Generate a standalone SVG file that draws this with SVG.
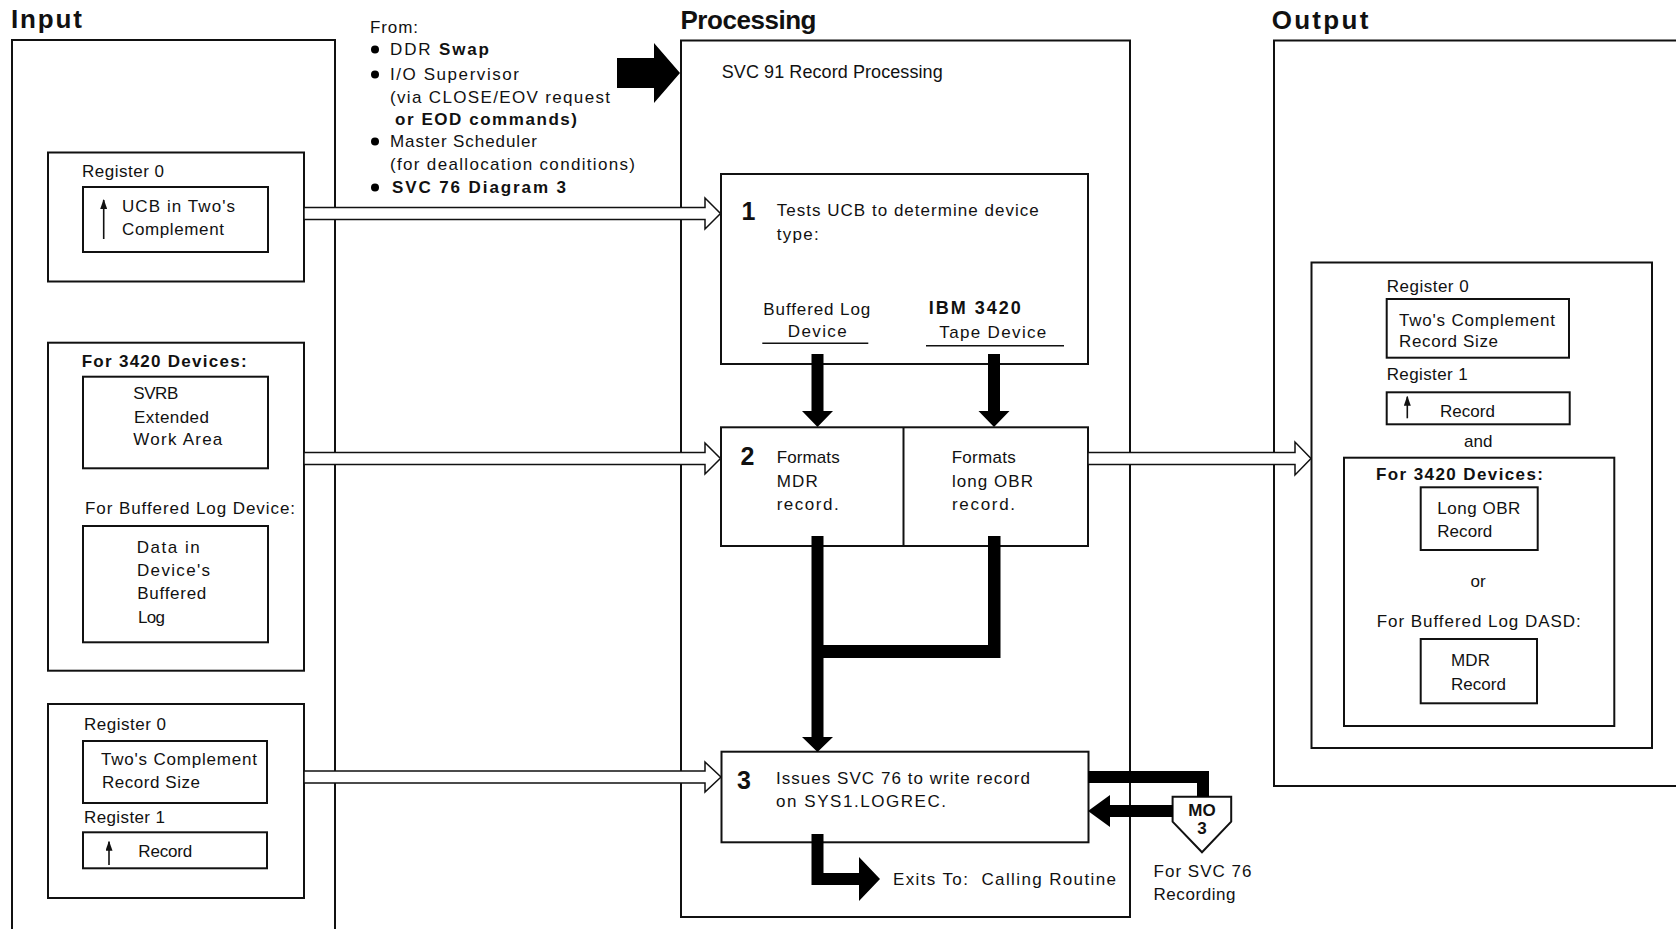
<svg xmlns="http://www.w3.org/2000/svg" width="1676" height="929" viewBox="0 0 1676 929">
  <style>
    .col{fill:none;stroke:#111;stroke-width:2}
    .box{fill:#fff;stroke:#111;stroke-width:2}
    .t{font-family:"Liberation Sans",Arial,sans-serif;font-size:17px;fill:#111}
    .b{font-weight:bold}
    .title{font-size:26px;font-weight:bold}
    .num{font-size:25px;font-weight:bold}
    .mid{text-anchor:middle}
    .hollow{fill:#fff;stroke:#111;stroke-width:1.5;stroke-linejoin:miter}
    .thick{fill:#000;stroke:none}
    .ul{stroke:#111;stroke-width:1.5}
    .ptr{stroke:#111;stroke-width:1.6;marker-end:url(#ptrHead)}
  </style>
  <defs>
    <marker id="ptrHead" viewBox="0 0 10 7" refX="9" refY="3.5" markerUnits="userSpaceOnUse" markerWidth="10" markerHeight="7" orient="auto">
      <path d="M0,0 L10,3.5 L0,7 z" fill="#111"/>
    </marker>
  </defs>
  <rect width="1676" height="929" fill="#fff"/>

  <!-- Input column -->
  <g id="input-column">
    <text class="t title" x="11" y="28" textLength="71">Input</text>
    <rect class="col" x="12" y="40" width="323" height="960"/>
  </g>

  <g id="in-register0-ucb">
    <rect class="box" x="48" y="152.5" width="256" height="129"/>
    <text class="t" x="82" y="176.7" textLength="82">Register 0</text>
    <rect class="box" x="83" y="187" width="185" height="65"/>
    <line class="ptr" x1="103.7" y1="239" x2="103.7" y2="200"/>
    <text class="t" x="122" y="211.7" textLength="113">UCB in Two's</text>
    <text class="t" x="122" y="235" textLength="102">Complement</text>
  </g>

  <g id="in-device-data">
    <rect class="box" x="48" y="342.7" width="256" height="328"/>
    <text class="t b" x="81.7" y="366.7" textLength="165">For 3420 Devices:</text>
    <rect class="box" x="83" y="376.7" width="185" height="91.6"/>
    <text class="t" x="133.3" y="399.3" textLength="45">SVRB</text>
    <text class="t" x="134" y="422.7" textLength="75">Extended</text>
    <text class="t" x="133.3" y="445" textLength="89">Work Area</text>
    <text class="t" x="85" y="514" textLength="210">For Buffered Log Device:</text>
    <rect class="box" x="83" y="526" width="185" height="116.3"/>
    <text class="t" x="136.7" y="552.7" textLength="63">Data in</text>
    <text class="t" x="137" y="576" textLength="73">Device's</text>
    <text class="t" x="137.3" y="599.3" textLength="69">Buffered</text>
    <text class="t" x="138" y="622.7" textLength="27">Log</text>
  </g>

  <g id="in-register-record">
    <rect class="box" x="48" y="704" width="256" height="194"/>
    <text class="t" x="84" y="730" textLength="82">Register 0</text>
    <rect class="box" x="83" y="741" width="184" height="62"/>
    <text class="t" x="101" y="765" textLength="156">Two's Complement</text>
    <text class="t" x="102" y="788.3" textLength="98">Record Size</text>
    <text class="t" x="84" y="823.3" textLength="81">Register 1</text>
    <rect class="box" x="83" y="832.3" width="184" height="36"/>
    <line class="ptr" x1="109" y1="865" x2="109" y2="841.7"/>
    <text class="t" x="138.3" y="856.7" textLength="54">Record</text>
  </g>

  <!-- Callers -->
  <g id="from-list">
    <text class="t" x="370" y="33" textLength="48">From:</text>
    <circle cx="375" cy="49.5" r="4"/>
    <text class="t" x="390" y="55" textLength="99">DDR <tspan class="b">Swap</tspan></text>
    <circle cx="375" cy="74.5" r="4"/>
    <text class="t" x="390" y="80" textLength="129">I/O Supervisor</text>
    <text class="t" x="390" y="103" textLength="220">(via CLOSE/EOV request</text>
    <text class="t b" x="395" y="125" textLength="182">or EOD commands)</text>
    <circle cx="375" cy="141.5" r="4"/>
    <text class="t" x="390" y="147" textLength="147">Master Scheduler</text>
    <text class="t" x="390" y="170" textLength="245">(for deallocation conditions)</text>
    <circle cx="375" cy="187.5" r="4"/>
    <text class="t b" x="392" y="193" textLength="174">SVC 76 Diagram 3</text>
  </g>

  <!-- Processing column -->
  <g id="processing-column">
    <text class="t title" x="680.5" y="29" textLength="136">Processing</text>
    <rect class="col" x="681" y="40.5" width="449" height="876.5"/>
    <text class="t" x="721.7" y="78.3" style="font-size:18px" textLength="221">SVC 91 Record Processing</text>
  </g>

  <g id="step1">
    <rect class="box" x="721" y="174" width="367" height="190"/>
    <text class="t num" x="741.5" y="220">1</text>
    <text class="t" x="776.7" y="216" textLength="262">Tests UCB to determine device</text>
    <text class="t" x="776.7" y="240" textLength="42">type:</text>
    <text class="t" x="763.3" y="315" textLength="107">Buffered Log</text>
    <text class="t" x="787.7" y="337.3" textLength="59">Device</text>
    <line class="ul" x1="762.3" y1="343.3" x2="868.3" y2="343.3"/>
    <text class="t b" x="928.7" y="314" style="font-size:18px" textLength="92">IBM 3420</text>
    <text class="t" x="939.3" y="338.3" textLength="107">Tape Device</text>
    <line class="ul" x1="926" y1="345.7" x2="1064" y2="345.7"/>
  </g>

  <g id="step2">
    <rect class="box" x="721" y="427.3" width="367" height="118.7"/>
    <line class="col" x1="903.5" y1="427.3" x2="903.5" y2="546"/>
    <text class="t num" x="740.5" y="465">2</text>
    <text class="t" x="776.7" y="463.3" textLength="63">Formats</text>
    <text class="t" x="776.7" y="486.7" textLength="41">MDR</text>
    <text class="t" x="776.7" y="510" textLength="62">record.</text>
    <text class="t" x="951.7" y="463.3" textLength="64">Formats</text>
    <text class="t" x="952" y="486.7" textLength="81">long OBR</text>
    <text class="t" x="952" y="510" textLength="63">record.</text>
  </g>

  <g id="step3">
    <rect class="box" x="721.5" y="751.7" width="367" height="90.6"/>
    <text class="t num" x="737" y="789">3</text>
    <text class="t" x="776" y="783.5" textLength="254">Issues SVC 76 to write record</text>
    <text class="t" x="776" y="806.5" textLength="170">on SYS1.LOGREC.</text>
    <text class="t" x="893" y="884.5" textLength="223" xml:space="preserve">Exits To:  Calling Routine</text>
  </g>

  <g id="mo3">
    <polygon class="box" points="1172.6,796.7 1231.2,796.7 1231.2,821.7 1202,852.3 1172.6,821.7"/>
    <text class="t b mid" x="1202" y="816">MO</text>
    <text class="t b mid" x="1202" y="834">3</text>
    <text class="t" x="1153.5" y="876.7" textLength="98">For SVC 76</text>
    <text class="t" x="1153.5" y="900" textLength="82">Recording</text>
  </g>

  <!-- Output column -->
  <g id="output-column">
    <text class="t title" x="1271.7" y="28.5" textLength="96.6">Output</text>
    <path class="col" d="M1690,40.5 H1274 V786 H1690"/>
  </g>

  <g id="out-record-data">
    <rect class="box" x="1311.5" y="262.5" width="340.5" height="485.5"/>
    <text class="t" x="1386.7" y="291.7" textLength="82">Register 0</text>
    <rect class="box" x="1386.7" y="299" width="182.3" height="58.7"/>
    <text class="t" x="1399" y="326" textLength="156">Two's Complement</text>
    <text class="t" x="1399" y="347.3" textLength="99">Record Size</text>
    <text class="t" x="1386.7" y="380" textLength="81">Register 1</text>
    <rect class="box" x="1386.7" y="392.3" width="183" height="32"/>
    <line class="ptr" x1="1407.3" y1="418.3" x2="1407.3" y2="396.7"/>
    <text class="t" x="1440" y="416.7" textLength="55">Record</text>
    <text class="t mid" x="1478.3" y="446.7">and</text>
    <rect class="box" x="1344" y="457.7" width="270.3" height="268.3"/>
    <text class="t b" x="1376" y="480" textLength="167">For 3420 Devices:</text>
    <rect class="box" x="1420.7" y="487.3" width="117" height="62.7"/>
    <text class="t" x="1437.3" y="514" textLength="83">Long OBR</text>
    <text class="t" x="1437.3" y="536.7" textLength="55">Record</text>
    <text class="t mid" x="1478" y="586.7">or</text>
    <text class="t" x="1376.7" y="626.7" textLength="204">For Buffered Log DASD:</text>
    <rect class="box" x="1420.7" y="639" width="116.3" height="64.3"/>
    <text class="t" x="1451" y="666" textLength="39">MDR</text>
    <text class="t" x="1451" y="690" textLength="55">Record</text>
  </g>

  <!-- Connectors -->
  <g id="connectors">
    <!-- data flow (hollow) arrows -->
    <polygon class="hollow" points="304,207.5 705,207.5 705,198 720.5,213.5 705,229 705,219.5 304,219.5"/>
    <polygon class="hollow" points="304,452.5 705,452.5 705,443 720.5,458.5 705,474 705,464.5 304,464.5"/>
    <polygon class="hollow" points="304,771 705,771 705,762 721,777 705,792 705,783 304,783"/>
    <polygon class="hollow" points="1088,452.5 1295,452.5 1295,442 1311,458.5 1295,475 1295,464.5 1088,464.5"/>
    <!-- entry arrow -->
    <polygon class="thick" points="617,58 654,58 654,43 680,73 654,103 654,88 617,88"/>
    <!-- control flow (solid) arrows -->
    <polygon class="thick" points="811.5,354 823.5,354 823.5,411 833,411 817.5,427 802,411 811.5,411"/>
    <polygon class="thick" points="988,354 1000,354 1000,411 1009.5,411 994,427 978.5,411 988,411"/>
    <polygon class="thick" points="811.5,536 823.5,536 823.5,645 988,645 988,536 1000.5,536 1000.5,658 823.5,658 823.5,737 833,737 817.5,752 802,737 811.5,737"/>
    <polygon class="thick" points="1088,771 1209,771 1209,797 1197,797 1197,783 1088,783"/>
    <polygon class="thick" points="1173,805 1110,805 1110,795 1088,811 1110,827 1110,817 1173,817"/>
    <polygon class="thick" points="811.5,834 823.5,834 823.5,873 859,873 859,857 880,879 859,901 859,885 811.5,885"/>
  </g>
</svg>
